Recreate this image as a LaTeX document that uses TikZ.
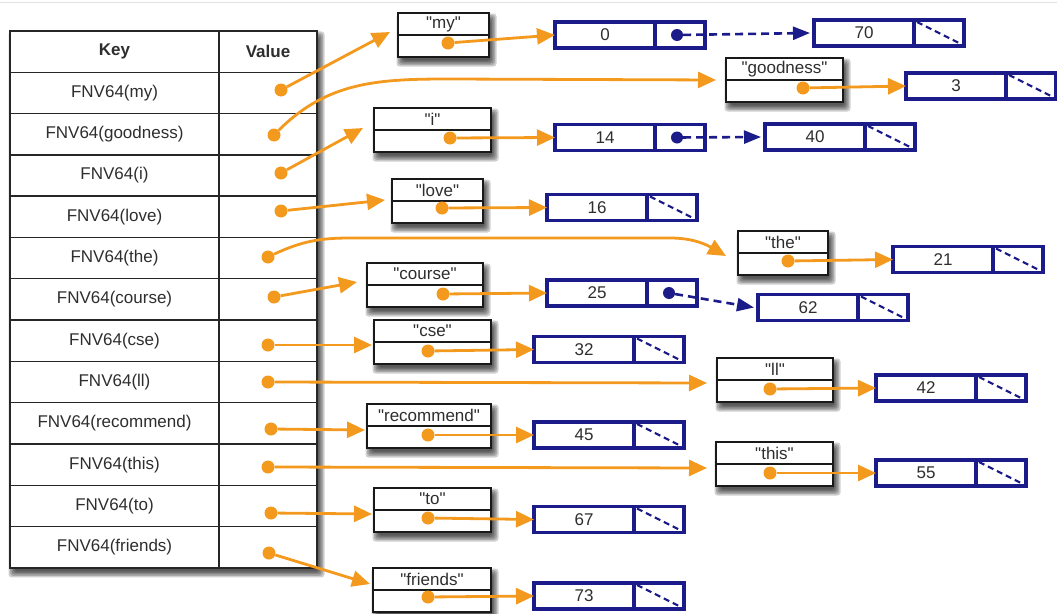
\documentclass[tikz,border=0pt]{standalone}
\usepackage{fontspec}
\setmainfont{Liberation Sans}[Ligatures=TeXOff]
\usepackage{tikz}
\usetikzlibrary{positioning, arrows.meta, fit, backgrounds}
\definecolor{hashorange}{HTML}{F39A1E}
\definecolor{listnavy}{HTML}{1B1B8A}
\definecolor{ink}{HTML}{2E2E2E}
\definecolor{rule}{HTML}{E2E2E2}
\tikzset{
  keycell/.style = {rectangle, draw=black!85, line width=1.4pt, outer sep=0pt,
                    minimum width=209pt, minimum height=41.3pt, inner sep=0pt,
                    text=ink, font=\fontsize{17}{20}\selectfont},
  valcell/.style = {keycell, minimum width=98pt},
  strcell/.style = {rectangle, draw=black!90, line width=1.4pt, fill=white, outer sep=0pt,
                    minimum height=22pt, inner sep=0pt, text=ink,
                    font=\fontsize{17}{20}\selectfont},
  numcell/.style = {rectangle, draw=listnavy, line width=3.2pt, fill=white, outer sep=0pt,
                    minimum width=100pt, minimum height=26pt, inner sep=0pt,
                    text=ink, font=\fontsize{17}{20}\selectfont},
  ptrcell/.style = {numcell, minimum width=50pt},
  odot/.style    = {circle, fill=hashorange, minimum size=13pt, inner sep=0pt},
  ndot/.style    = {circle, fill=listnavy, minimum size=12pt, inner sep=0pt},
  oar/.style     = {-{Triangle[length=18pt,width=16pt]}, line width=2.8pt, draw=hashorange},
  nar/.style     = {-{Triangle[length=17pt,width=13pt]}, line width=2.6pt, draw=listnavy,
                    dash pattern=on 8pt off 5pt},
  nullptr/.style = {line width=2.2pt, draw=listnavy, dash pattern=on 6pt off 4pt},
  shade/.style   = {fill=black, fill opacity=0.19},
}
% soft drop shadow between two corners (NW, SE)
\newcommand{\softshadow}[2]{%
  \foreach \e in {4.5,3,1.5,0,-1.5}
    \fill[shade, rounded corners=3pt]
      ([shift={(3pt-\e pt,-5pt+\e pt)}]#1) rectangle ([shift={(3pt+\e pt,-5pt-\e pt)}]#2);
}

\begin{document}
\begin{tikzpicture}[x=1pt, y=-1pt]
  \useasboundingbox (0,0) rectangle (1057,613);
  \draw[rule, line width=1pt] (0,2) -- (1057,2);

  % hash table
  \node[keycell, font=\bfseries\fontsize{17}{20}\selectfont] (hkey) at (114.5,51.6) {Key};
  \node[valcell, font=\bfseries\fontsize{17}{20}\selectfont, right=0pt of hkey] (hval) {Value};
  \foreach \w [count=\i] in {my,goodness,i,love,the,course,cse,ll,recommend,this,to,friends} {
    \node[keycell] (k\w) at (114.5,51.6+41.3*\i) {FNV64(\w)};
    \node[valcell, right=0pt of k\w] (v\w) {};
  }
  \foreach \w/\x/\y in {my/281/90, goodness/274/135, i/281/173, love/281/211, the/268/257,
      course/274/297, cse/268/345, ll/268/382, recommend/271/429, this/268/467, to/271/513,
      friends/269/553}
    \node[odot] (h\w) at (\x,\y) {};

  % string entries
  \foreach \w/\bw/\x/\y in {my/91/443.5/24, goodness/117/784.5/69, i/117/432.5/119,
      love/91/437.5/190, the/90/783/242, course/116/425/274, cse/117/432.5/331,
      ll/116/775/369, recommend/124/429/415, this/117/774.5/453, to/117/432.5/499,
      friends/118/432/579} {
    \node[strcell, minimum width=\bw pt] (s\w) at (\x,\y) {"\w"};
    \node[strcell, minimum width=\bw pt, below=0pt of s\w] (b\w) {};
  }
  \foreach \w/\x/\y in {my/448/43, goodness/803/88, i/450/138, love/442/208, the/788/261,
      course/443/294, cse/428/351, ll/770/389, recommend/428/435, this/770/473, to/428/518,
      friends/428/597}
    \node[odot] (o\w) at (\x,\y) {};

  % shadows
  \begin{scope}[on background layer]
    \softshadow{hkey.north west}{vfriends.south east}
    \foreach \w in {my,goodness,i,love,the,course,cse,ll,recommend,this,to,friends} {
      \softshadow{s\w.north west}{b\w.south east}
    }
    \node[fit=(hkey)(vfriends), inner sep=0pt, fill=white, draw=black, line width=2pt] (tbl) {};
  \end{scope}

  % list cells
  \foreach \v/\x/\y in {0/605/35, 70/864/33, 3/956/86, 14/605/137.5, 40/815/137,
      16/597/207.5, 21/943/259.5, 25/597/293, 62/808/307.5, 32/584/349.5, 42/926/388,
      45/584/435, 55/926/473, 67/584/519.5, 73/584/596} {
    \node[numcell] (nv\v) at (\x,\y) {\v};
    \node[ptrcell, right=0pt of nv\v] (np\v) {};
  }
  \foreach \v in {70,3,40,16,21,62,32,42,45,55,67,73}
    \draw[nullptr] ([shift={(3pt,-2pt)}]np\v.north west) -- ([shift={(-3pt,2pt)}]np\v.south east);
  \foreach \a/\b in {0/70, 14/40, 25/62} {
    \node[ndot] (nd\a) at ([xshift=-3pt]np\a.center) {};
    \draw[nar] (nd\a) -- ([xshift=-4pt]nv\b.west);
  }

  % table -> strings
  \foreach \w/\dx/\dy in {my/-8/3, i/-11/2, love/-7/1, course/-10/3, cse/-2/-3, ll/-10/-3,
      recommend/-2/-4, this/-9/-4, to/-2/-4, friends/-3/6}
    \draw[oar] (h\w) -- ([xshift=\dx pt, yshift=\dy pt]s\w.south west);
  \coordinate (gbend) at (450,79);
  \draw[oar] (hgoodness) to[out=45, in=180] (gbend) -- ([xshift=-10pt]sgoodness.south west);
  \coordinate (tbend1) at (350,238);
  \coordinate (tbend2) at (670,238);
  \draw[oar] (hthe) to[out=25, in=180] (tbend1) -- (tbend2)
             to[out=0, in=150] ([xshift=-12pt, yshift=-3pt]sthe.south west);

  % strings -> lists
  \foreach \w/\v in {my/0, goodness/3, i/14, love/16, the/21, course/25, cse/32, ll/42,
      recommend/45, this/55, to/67, friends/73}
    \draw[oar] (o\w) -- (nv\v.west);

\end{tikzpicture}
\end{document}
